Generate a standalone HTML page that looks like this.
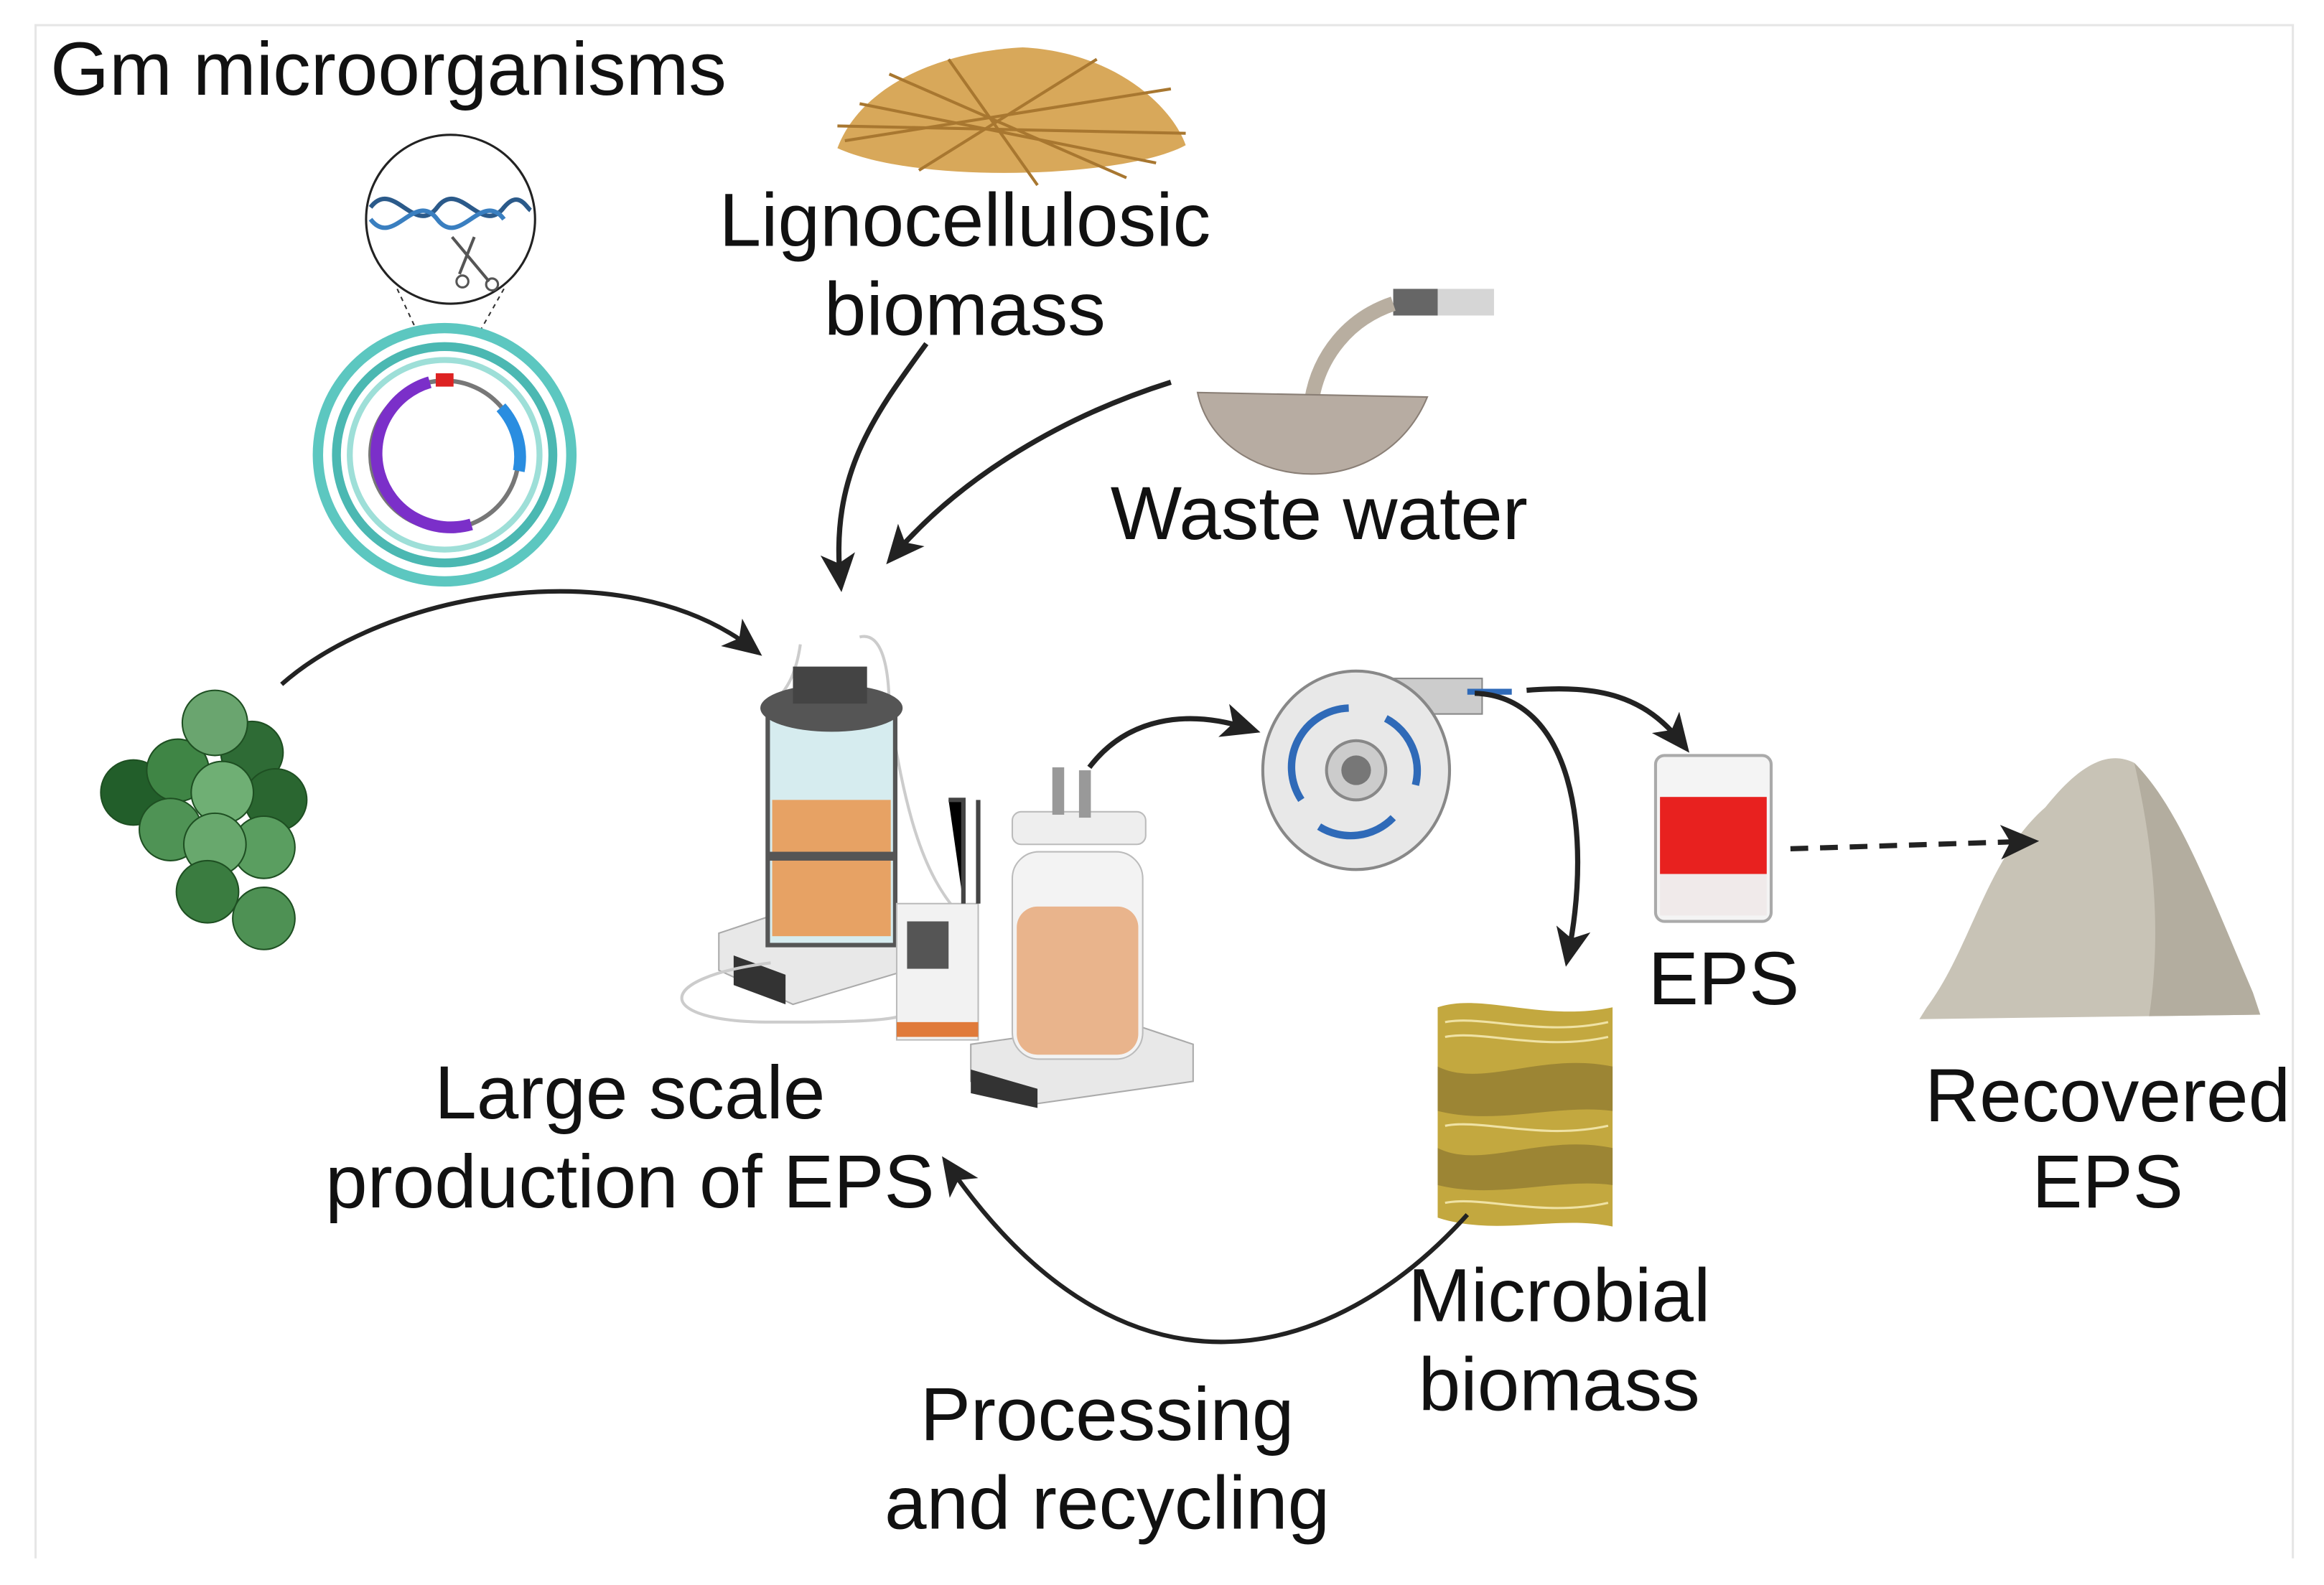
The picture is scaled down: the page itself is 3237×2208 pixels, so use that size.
<!DOCTYPE html>
<html><head><meta charset="utf-8"><style>
html,body{margin:0;padding:0;background:#fff;}
svg{display:block;}
text{font-family:"Liberation Sans",sans-serif;fill:#111;}
</style></head><body>
<svg width="3237" height="2208" viewBox="0 0 1568 1070" preserveAspectRatio="none" xmlns="http://www.w3.org/2000/svg">
<defs>
<marker id="ah" viewBox="0 0 20 20" refX="14" refY="10" markerWidth="26" markerHeight="26" orient="auto" markerUnits="userSpaceOnUse">
<path d="M0,1 L20,10 L0,19 L5,10 z" fill="#222"/>
</marker>
</defs>
<rect x="0" y="0" width="1568" height="1070" fill="#fff"/>
<path d="M24,1052 L24,17 L1547,17 L1547,1052" fill="none" stroke="#e6e6e6" stroke-width="1.5"/>

<!-- straw -->
<path d="M565,100 C580,60 630,35 690,32 C750,35 790,70 800,98 C760,120 620,125 565,100z" fill="#d8a85a"/>
<g stroke="#a87730" stroke-width="2">
<path d="M570,95 L790,60 M580,70 L780,110 M600,50 L760,120 M620,115 L740,40 M565,85 L800,90 M640,40 L700,125"/>
</g>

<!-- DNA circle -->
<circle cx="304" cy="148" r="57" fill="#fff" stroke="#222" stroke-width="1.5"/>
<path d="M250,140 C265,120 280,160 295,140 C310,120 325,160 340,140 C350,128 355,140 358,142" fill="none" stroke="#2b5a8a" stroke-width="3"/>
<path d="M250,148 C265,168 280,128 295,148 C310,168 325,128 340,148" fill="none" stroke="#3a7fc0" stroke-width="3"/>
<path d="M305,160 L330,190 M320,160 L310,185" stroke="#555" stroke-width="2"/>
<circle cx="312" cy="190" r="4" fill="none" stroke="#555" stroke-width="1.5"/>
<circle cx="332" cy="192" r="4" fill="none" stroke="#555" stroke-width="1.5"/>
<path d="M268,195 L296,255 M340,195 L306,255" stroke="#333" stroke-width="1" stroke-dasharray="3,3"/>

<!-- cell -->
<circle cx="300" cy="307" r="89" fill="#5cc7c0"/>
<circle cx="300" cy="307" r="82" fill="#fff"/>
<circle cx="300" cy="307" r="76" fill="#4bb8b2"/>
<circle cx="300" cy="307" r="70" fill="#fff"/>
<circle cx="300" cy="307" r="66" fill="#9edfd8"/>
<circle cx="300" cy="307" r="62" fill="#fff"/>
<circle cx="300" cy="307" r="50" fill="none" stroke="#777" stroke-width="3"/>
<path d="M290,258 A50,50 0 0 0 318,354" fill="none" stroke="#7b2fc9" stroke-width="8"/>
<path d="M338,275 A50,50 0 0 1 350,318" fill="none" stroke="#2a8de0" stroke-width="8"/>
<rect x="294" y="252" width="12" height="9" fill="#d22"/>

<!-- green spheres -->
<g stroke="#1e4f22" stroke-width="1">
<circle cx="90" cy="535" r="22" fill="#225e2a"/>
<circle cx="170" cy="508" r="21" fill="#2e6b35"/>
<circle cx="186" cy="540" r="21" fill="#2a6630"/>
<circle cx="120" cy="520" r="21" fill="#3f8545"/>
<circle cx="145" cy="488" r="22" fill="#6aa56f"/>
<circle cx="115" cy="560" r="21" fill="#4f9355"/>
<circle cx="150" cy="535" r="21" fill="#6faf74"/>
<circle cx="178" cy="572" r="21" fill="#5a9e60"/>
<circle cx="145" cy="570" r="21" fill="#68a86d"/>
<circle cx="140" cy="602" r="21" fill="#3a7c40"/>
<circle cx="178" cy="620" r="21" fill="#4e9154"/>
</g>

<!-- bioreactor -->
<path d="M540,435 C535,470 520,470 530,470 M580,430 C600,425 600,470 600,480 C610,540 620,590 650,620" fill="none" stroke="#ccc" stroke-width="2"/>
<path d="M485,630 L560,605 L612,625 L612,655 L535,678 L485,655 z" fill="#e8e8e8" stroke="#aaa"/>
<rect x="518" y="478" width="86" height="160" fill="#d6ecef" stroke="#555" stroke-width="3"/>
<rect x="521" y="540" width="80" height="92" fill="#e7a264"/>
<rect x="518" y="575" width="86" height="6" fill="#555"/>
<ellipse cx="561" cy="478" rx="48" ry="16" fill="#555"/>
<rect x="535" y="450" width="50" height="25" fill="#444"/>
<path d="M495,645 L530,658 L530,678 L495,665z" fill="#333"/>
<path d="M520,650 C440,660 440,690 520,690 C560,690 600,690 610,685" fill="none" stroke="#ccc" stroke-width="2"/>
<!-- controller -->
<rect x="605" y="610" width="55" height="92" fill="#f2f2f2" stroke="#bbb"/>
<rect x="612" y="622" width="28" height="32" fill="#555"/>
<rect x="605" y="690" width="55" height="10" fill="#e07a3a"/>
<path d="M640,540 L650,540 L650,610 M660,540 L660,610" stroke="#444" stroke-width="3"/>
<!-- bottle -->
<path d="M655,705 L760,690 L805,705 L805,730 L700,745 L655,730 z" fill="#e8e8e8" stroke="#aaa"/>
<rect x="683" y="575" width="88" height="140" rx="18" fill="#f3f3f3" stroke="#bbb"/>
<rect x="686" y="612" width="82" height="100" rx="14" fill="#e9b48c"/>
<rect x="683" y="548" width="90" height="22" rx="6" fill="#eee" stroke="#bbb"/>
<rect x="710" y="518" width="8" height="32" fill="#999"/>
<rect x="728" y="520" width="8" height="32" fill="#999"/>
<path d="M655,722 L700,735 L700,748 L655,738z" fill="#333"/>

<!-- centrifuge -->
<rect x="935" y="458" width="65" height="24" fill="#ccc" stroke="#888"/>
<ellipse cx="915" cy="520" rx="63" ry="67" fill="#e8e8e8" stroke="#888" stroke-width="2"/>
<circle cx="915" cy="520" r="20" fill="#ccc" stroke="#888" stroke-width="2"/>
<circle cx="915" cy="520" r="10" fill="#777"/>
<g fill="none" stroke="#2f6ab8" stroke-width="5">
<path d="M878,540 A40,40 0 0 1 910,478"/>
<path d="M935,485 A40,40 0 0 1 955,530"/>
<path d="M940,552 A40,40 0 0 1 890,558"/>
</g>
<path d="M990,467 L1020,467" stroke="#2f6ab8" stroke-width="4"/>

<!-- beaker -->
<rect x="1117" y="510" width="78" height="112" rx="6" fill="#f4f4f4" stroke="#aaa" stroke-width="2"/>
<rect x="1120" y="538" width="72" height="52" fill="#e8211f"/>
<rect x="1120" y="590" width="72" height="28" fill="#f0eaea"/>

<!-- powder pile -->
<path d="M1300,680 C1330,640 1340,580 1380,545 C1400,520 1420,505 1440,515 C1470,545 1490,600 1520,670 L1525,685 L1295,688 z" fill="#c8c3b6"/>
<path d="M1440,515 C1470,545 1490,600 1520,670 L1525,685 L1450,686 C1460,620 1450,560 1440,515z" fill="#b3ad9f"/>

<!-- microbial biomass -->
<g>
<path d="M970,680 C1000,670 1040,690 1088,680 L1088,828 C1050,820 1010,835 970,822 z" fill="#c3a83f"/>
<path d="M970,720 C1000,735 1040,710 1088,720 L1088,750 C1050,745 1010,760 970,750 z" fill="#9c8534"/>
<path d="M970,775 C1000,790 1040,765 1088,775 L1088,800 C1050,795 1010,810 970,800 z" fill="#9c8534"/>
<path d="M975,690 C1000,685 1040,700 1085,690 M975,700 C1000,695 1040,710 1085,700 M975,760 C1000,755 1040,770 1085,760 M975,812 C1000,807 1040,822 1085,812" stroke="#efe2a4" stroke-width="1.5" fill="none"/>
</g>

<!-- waste water -->
<rect x="940" y="195" width="30" height="18" fill="#666"/>
<rect x="970" y="195" width="38" height="18" fill="#bbb" opacity="0.6"/>
<path d="M940,205 C910,215 890,240 885,270" stroke="#b8aea0" stroke-width="10" fill="none"/>
<path d="M808,265 L963,268 C950,300 920,320 885,320 C850,320 815,300 808,265 z" fill="#b7aca2" stroke="#8a7f76"/>

<!-- arrows -->
<g fill="none" stroke="#222" stroke-width="3.5">
<path d="M190,462 C260,400 420,370 508,438" marker-end="url(#ah)" stroke-width="3"/>
<path d="M625,232 C590,280 560,320 567,392" marker-end="url(#ah)"/>
<path d="M790,258 C720,280 650,320 603,375" marker-end="url(#ah)"/>
<path d="M735,518 C760,485 800,478 843,492" marker-end="url(#ah)"/>
<path d="M1030,466 C1080,462 1110,470 1135,502" marker-end="url(#ah)"/>
<path d="M995,468 C1060,470 1075,560 1058,645" marker-end="url(#ah)"/>
<path d="M1208,573 L1368,568" stroke-dasharray="12,8" marker-end="url(#ah)"/>
<path d="M990,820 C900,920 760,960 640,787" marker-end="url(#ah)" stroke-width="3"/>
</g>

<!-- labels -->
<g font-size="51">
<text x="34" y="64">Gm microorganisms</text>
</g>
<g font-size="51" text-anchor="middle">
<text x="651" y="166">Lignocellulosic</text>
<text x="651" y="226">biomass</text>
<text x="890" y="364">Waste water</text>
<text x="425" y="755">Large scale</text>
<text x="425" y="815">production of EPS</text>
<text x="1163" y="678">EPS</text>
<text x="1422" y="757">Recovered</text>
<text x="1422" y="815">EPS</text>
<text x="1052" y="892">Microbial</text>
<text x="1052" y="952">biomass</text>
<text x="747" y="972">Processing</text>
<text x="747" y="1032">and recycling</text>
</g>
</svg>
</body></html>
